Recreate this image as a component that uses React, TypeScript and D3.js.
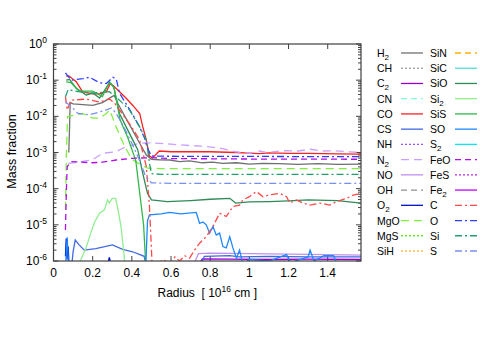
import React from 'react';
import * as d3 from 'd3';

type Pt = [number, number];

const xTicks = [0, 0.2, 0.4, 0.6, 0.8, 1, 1.2, 1.4];
const yExponents = [0, -1, -2, -3, -4, -5, -6];

// [radius (1e16 cm), mass fraction]
const H2: Pt[] = [[0.078, 1e-3], [0.082, 5e-3], [0.085, 0.024], [0.1, 0.022], [0.15, 0.021], [0.2, 0.02], [0.25, 0.024], [0.29, 0.033], [0.31, 0.038], [0.33, 0.022], [0.36, 0.011], [0.4, 4.5e-3], [0.44, 1.8e-3], [0.474, 8.5e-4], [0.5, 6.5e-4], [0.54, 6.3e-4], [0.593, 6.2e-4], [0.644, 5.6e-4], [0.695, 5.9e-4], [0.761, 5.2e-4], [0.812, 5.4e-4], [0.864, 5.0e-4], [0.935, 5.2e-4], [1.0, 4.8e-4], [1.068, 5.0e-4], [1.15, 4.9e-4], [1.25, 4.7e-4], [1.35, 4.9e-4], [1.45, 4.7e-4], [1.57, 4.8e-4]];
const CH: Pt[] = [];
const C2: Pt[] = [[0.72, 5e-7], [0.76, 1.15e-6], [0.9, 1.12e-6], [1.1, 1.1e-6], [1.3, 1.12e-6], [1.57, 1.1e-6]];
const CN: Pt[] = [];
const CO: Pt[] = [[0.065, 0.13], [0.078, 0.132], [0.116, 0.091], [0.148, 0.048], [0.2, 0.042], [0.235, 0.042], [0.27, 0.048], [0.29, 0.081], [0.307, 0.069], [0.337, 0.048], [0.37, 0.032], [0.405, 0.02], [0.44, 0.012], [0.456, 5.1e-3], [0.474, 2.2e-3], [0.49, 8e-4], [0.506, 7.1e-4], [0.54, 1.1e-3], [0.6, 1.05e-3], [0.8, 1.05e-3], [0.93, 1.0e-3], [1.0, 9.6e-4], [1.05, 9.3e-4], [1.1, 9.8e-4], [1.2, 9.5e-4], [1.3, 9.4e-4], [1.45, 9.2e-4], [1.57, 9.0e-4]];
const CS: Pt[] = [[0.09, 5e-7], [0.1, 1.8e-6], [0.111, 3.8e-6], [0.131, 2.8e-6], [0.157, 2.0e-6], [0.216, 2.2e-6], [0.301, 2.8e-6], [0.353, 2.1e-6], [0.404, 1.8e-6], [0.463, 1.35e-6], [0.48, 5e-7], [0.74, 5e-7], [0.77, 1.35e-6], [0.9, 1.4e-6], [0.95, 1.3e-6], [1.1, 1.35e-6], [1.3, 1.3e-6], [1.57, 1.3e-6]];
const NH: Pt[] = [];
const N2: Pt[] = [[0.075, 5e-4], [0.1, 5.2e-4], [0.2, 6.3e-4], [0.25, 9.5e-4], [0.32, 1.05e-3], [0.37, 1.45e-3], [0.44, 1.8e-3], [0.49, 1.85e-3], [0.6, 1.7e-3], [0.7, 1.55e-3], [0.76, 1.5e-3], [0.85, 1.32e-3], [0.93, 1.05e-3], [1.0, 9.5e-4], [1.05, 1.1e-3], [1.09, 1.0e-3], [1.17, 1.12e-3], [1.25, 1.1e-3], [1.31, 1.23e-3], [1.37, 1.1e-3], [1.43, 1.12e-3], [1.5, 1.05e-3], [1.57, 1.0e-3]];
const NO: Pt[] = [[0.7, 5e-7], [0.74, 1.6e-6], [0.8, 1.65e-6], [1.0, 1.6e-6], [1.2, 1.55e-6], [1.4, 1.5e-6], [1.57, 1.45e-6]];
const OH: Pt[] = [];
const O2: Pt[] = [[0.061, 1.35e-6], [0.065, 4.2e-6], [0.069, 1.1e-6], [0.075, 2.5e-6], [0.08, 6e-7], [0.27, 6e-7], [0.285, 1.25e-6], [0.3, 6e-7]];
const MgO: Pt[] = [[0.061, 2.6e-5], [0.066, 1e-3], [0.072, 9.8e-3], [0.116, 0.011], [0.148, 0.012], [0.2, 8.9e-3], [0.235, 8.9e-3], [0.27, 0.012], [0.287, 0.015], [0.32, 5.1e-3], [0.36, 1.6e-3], [0.4, 6.5e-4], [0.45, 4.4e-4], [0.48, 3.7e-4], [0.55, 3.6e-4], [1.0, 3.6e-4], [1.57, 3.6e-4]];
const MgS: Pt[] = [];
const SiH: Pt[] = [];
const SiN: Pt[] = [];
const SiC: Pt[] = [];
const SiO: Pt[] = [[0.065, 0.1], [0.082, 0.105], [0.116, 0.06], [0.167, 0.039], [0.201, 0.044], [0.235, 0.032], [0.286, 0.085], [0.307, 0.066], [0.337, 0.012], [0.371, 5.1e-3], [0.405, 2.2e-3], [0.43, 1.2e-3], [0.456, 2.6e-4], [0.48, 7.4e-5], [0.5, 4.9e-5], [0.58, 4.4e-5], [0.7, 4.7e-5], [0.8, 5.1e-5], [0.9, 5.4e-5], [0.93, 4.0e-5], [1.0, 4.3e-5], [1.1, 4.4e-5], [1.2, 4.6e-5], [1.3, 4.9e-5], [1.45, 4.7e-5], [1.57, 4.0e-5]];
const Si2: Pt[] = [[0.128, 5e-7], [0.14, 1.1e-6], [0.165, 2.2e-6], [0.19, 5.9e-6], [0.21, 1.2e-5], [0.235, 2.1e-5], [0.26, 2.6e-5], [0.276, 4.9e-5], [0.285, 4.0e-5], [0.3, 5.4e-5], [0.317, 5.4e-5], [0.33, 2.6e-5], [0.346, 8e-6], [0.36, 1.5e-6], [0.368, 5e-7]];
const SiS: Pt[] = [[0.065, 0.09], [0.09, 0.085], [0.13, 0.05], [0.2, 0.05], [0.25, 0.035], [0.286, 0.09], [0.31, 0.06], [0.34, 8e-3], [0.38, 2.5e-3], [0.42, 6e-4], [0.46, 1e-5], [0.48, 1e-7]];
const SO: Pt[] = [[0.061, 5e-7], [0.066, 2.2e-6], [0.07, 4.5e-6], [0.074, 1.5e-6], [0.078, 5e-7], [0.47, 5e-7], [0.48, 1.3e-5], [0.49, 1.9e-5], [0.55, 2.0e-5], [0.593, 2.2e-5], [0.65, 2.0e-5], [0.729, 2.2e-5], [0.746, 1.1e-5], [0.763, 1.2e-5], [0.78, 1.0e-5], [0.797, 5.9e-6], [0.814, 9e-6], [0.831, 5.2e-6], [0.848, 5.9e-6], [0.865, 2.5e-6], [0.882, 2.3e-6], [0.9, 4.7e-6], [0.916, 2.3e-6], [0.934, 1.2e-6], [0.95, 2.0e-6], [0.967, 8e-7], [1.0, 1.1e-6], [1.1, 1.0e-6], [1.19, 1.5e-6], [1.21, 9e-7], [1.3, 1.3e-6], [1.31, 2.0e-6], [1.33, 1.0e-6], [1.38, 1.4e-6], [1.43, 1.4e-6], [1.45, 8e-7], [1.57, 8e-7]];
const S2: Pt[] = [];
const FeO: Pt[] = [[0.061, 7.2e-6], [0.066, 1e-4], [0.07, 4.1e-4], [0.09, 5.6e-4], [0.2, 5.2e-4], [0.25, 5.4e-4], [0.32, 6.2e-4], [0.4, 6.9e-4], [0.5, 7.2e-4], [0.6, 6.8e-4], [1.0, 6.6e-4], [1.57, 6.5e-4]];
const FeS: Pt[] = [];
const Fe2: Pt[] = [];
const C: Pt[] = [[0.061, 0.035], [0.07, 0.015], [0.09, 0.028], [0.167, 0.03], [0.235, 0.025], [0.286, 0.03], [0.312, 0.023], [0.35, 0.012], [0.4, 5e-3], [0.44, 2.2e-3], [0.474, 4.1e-4], [0.49, 3.2e-5], [0.498, 3.8e-6], [0.505, 5e-7], [0.53, 8e-7], [0.56, 1.1e-6], [0.6, 8e-7], [0.62, 1.3e-6], [0.644, 1.0e-6], [0.67, 1.4e-6], [0.695, 1.2e-6], [0.72, 2.0e-6], [0.746, 3.1e-6], [0.78, 4.7e-6], [0.814, 8.9e-6], [0.848, 2.1e-5], [0.882, 1.7e-5], [0.916, 3.2e-5], [0.95, 3.5e-5], [0.967, 4.9e-5], [1.0, 6.0e-5], [1.036, 8.3e-5], [1.07, 6.0e-5], [1.1, 6.7e-5], [1.155, 7.4e-5], [1.19, 6.0e-5], [1.206, 4.0e-5], [1.24, 4.9e-5], [1.274, 4.0e-5], [1.308, 3.5e-5], [1.36, 4.0e-5], [1.41, 3.5e-5], [1.445, 4.4e-5], [1.496, 5.4e-5], [1.53, 6.6e-5], [1.57, 7.4e-5]];
const O: Pt[] = [[0.061, 0.16], [0.09, 0.1], [0.15, 0.11], [0.184, 0.12], [0.235, 0.085], [0.27, 0.081], [0.303, 0.12], [0.32, 0.11], [0.337, 0.044], [0.371, 0.022], [0.405, 0.011], [0.44, 5e-3], [0.465, 2.5e-3], [0.48, 1.3e-3], [0.5, 8e-4], [0.55, 7.9e-4], [0.8, 7.8e-4], [1.0, 7.8e-4], [1.3, 7.7e-4], [1.57, 7.7e-4]];
const Si: Pt[] = [[0.061, 0.035], [0.075, 0.055], [0.125, 0.048], [0.2, 0.044], [0.286, 0.048], [0.337, 0.028], [0.388, 0.015], [0.44, 5.1e-3], [0.474, 2.2e-3], [0.49, 5e-4], [0.5, 2.6e-4], [0.55, 2.5e-4], [1.57, 2.5e-4]];
const S: Pt[] = [[0.061, 0.025], [0.09, 0.019], [0.125, 0.012], [0.184, 0.011], [0.27, 0.015], [0.296, 0.017], [0.32, 0.012], [0.36, 5e-3], [0.4, 1.8e-3], [0.44, 6e-4], [0.47, 2.2e-4], [0.5, 1.45e-4], [0.6, 1.4e-4], [1.0, 1.4e-4], [1.57, 1.4e-4]];

const SOLID = '';
const DASH = '6,4';
const LONG = '8,5';
const DOT = '2,2';
const DASHDOT = '7,3,2,3';

const col1 = [
  { name: 'H2', data: H2, color: '#707070', dash: SOLID },
  { name: 'CH', data: CH, color: '#a8a8a8', dash: DOT },
  { name: 'C2', data: C2, color: '#9400d3', dash: SOLID },
  { name: 'CN', data: CN, color: '#7fffd4', dash: DASH },
  { name: 'CO', data: CO, color: '#ff2020', dash: SOLID },
  { name: 'CS', data: CS, color: '#4169e1', dash: SOLID },
  { name: 'NH', data: NH, color: '#a050f0', dash: DOT },
  { name: 'N2', data: N2, color: '#c8a0ff', dash: LONG },
  { name: 'NO', data: NO, color: '#c090ee', dash: SOLID },
  { name: 'OH', data: OH, color: '#909090', dash: DASH },
  { name: 'O2', data: O2, color: '#0010d0', dash: SOLID },
  { name: 'MgO', data: MgO, color: '#80f040', dash: LONG },
  { name: 'MgS', data: MgS, color: '#60f020', dash: DOT },
  { name: 'SiH', data: SiH, color: '#ffc040', dash: DOT },
];
const col2 = [
  { name: 'SiN', data: SiN, color: '#ffb000', dash: DASH },
  { name: 'SiC', data: SiC, color: '#50e0d8', dash: SOLID },
  { name: 'SiO', data: SiO, color: '#2e8b57', dash: SOLID },
  { name: 'Si2', data: Si2, color: '#90ee90', dash: SOLID },
  { name: 'SiS', data: SiS, color: '#30b848', dash: SOLID },
  { name: 'SO', data: SO, color: '#1e88ff', dash: SOLID },
  { name: 'S2', data: S2, color: '#00e8f0', dash: SOLID },
  { name: 'FeO', data: FeO, color: '#b010e8', dash: DASH },
  { name: 'FeS', data: FeS, color: '#c020f0', dash: DOT },
  { name: 'Fe2', data: Fe2, color: '#c000ff', dash: SOLID },
  { name: 'C', data: C, color: '#ff4848', dash: DASHDOT },
  { name: 'O', data: O, color: '#3040ff', dash: DASHDOT },
  { name: 'Si', data: Si, color: '#20a070', dash: DASHDOT },
  { name: 'S', data: S, color: '#7890f0', dash: DASHDOT },
];

const W = 491;
const H = 343;
const plot = { left: 53.5, right: 361, top: 44, bottom: 261 };
const font = '"Liberation Sans", Arial, sans-serif';

// "H2" -> H with subscript 2
const Label = ({ name, x, y }: { name: string; x: number; y: number }) => {
  const m = name.match(/^([A-Za-z]+)(\d*)$/);
  const base = m ? m[1] : name;
  const sub = m ? m[2] : '';
  return (
    <text x={x} y={y} fontSize={10.5} fill="#000">
      {base}
      {sub && <tspan dy={3} fontSize={8}>{sub}</tspan>}
    </text>
  );
};

export default function App() {
  const x = d3.scaleLinear().domain([0, 1.57]).range([plot.left, plot.right]);
  const y = d3.scaleLog().domain([1e-6, 1]).range([plot.bottom, plot.top]);
  const line = d3.line<Pt>().x(d => x(d[0])).y(d => y(d[1]));

  const minor: number[] = [];
  yExponents.slice(0, -1).forEach(e => {
    for (let k = 2; k <= 9; k++) minor.push(k * Math.pow(10, e - 1));
  });

  const rowY = (i: number) => 53 + i * 15.23;
  const border = '#404040';

  return (
    <svg width={W} height={H} style={{ position: 'absolute', left: 0, top: 0, background: '#fff' }} fontFamily={font}>
      <defs>
        <clipPath id="plotclip">
          <rect x={plot.left} y={plot.top} width={plot.right - plot.left} height={plot.bottom - plot.top} />
        </clipPath>
      </defs>

      {/* ticks */}
      <g stroke={border} strokeWidth={1}>
        {xTicks.map(t => (
          <g key={'xt' + t}>
            <line x1={x(t)} x2={x(t)} y1={plot.bottom} y2={plot.bottom - 5} />
            <line x1={x(t)} x2={x(t)} y1={plot.top} y2={plot.top + 5} />
          </g>
        ))}
        {yExponents.map(e => (
          <g key={'yt' + e}>
            <line x1={plot.left} x2={plot.left + 5} y1={y(Math.pow(10, e))} y2={y(Math.pow(10, e))} />
            <line x1={plot.right} x2={plot.right - 5} y1={y(Math.pow(10, e))} y2={y(Math.pow(10, e))} />
          </g>
        ))}
        {minor.map((v, i) => (
          <g key={'ym' + i}>
            <line x1={plot.left} x2={plot.left + 3} y1={y(v)} y2={y(v)} />
            <line x1={plot.right} x2={plot.right - 3} y1={y(v)} y2={y(v)} />
          </g>
        ))}
      </g>

      {/* curves */}
      <g clipPath="url(#plotclip)" fill="none" strokeWidth={1.3}>
        {[...col1, ...col2].filter(s => s.data.length).map(s => (
          <path key={s.name} d={line(s.data) || ''} stroke={s.color} strokeDasharray={s.dash || undefined} />
        ))}
      </g>

      <rect x={plot.left} y={plot.top} width={plot.right - plot.left} height={plot.bottom - plot.top}
        fill="none" stroke={border} strokeWidth={1.2} />

      {/* tick labels */}
      {xTicks.map(t => (
        <text key={'xl' + t} x={x(t)} y={277} fontSize={12} textAnchor="middle">{t}</text>
      ))}
      {yExponents.map(e => (
        <text key={'yl' + e} x={47} y={y(Math.pow(10, e)) + 4} fontSize={12} textAnchor="end">
          10<tspan dy={-5} fontSize={8.5}>{e === 0 ? '0' : '-' + -e}</tspan>
        </text>
      ))}

      <text transform={`translate(16,${(plot.top + plot.bottom) / 2 - 1}) rotate(-90)`} fontSize={12.5} textAnchor="middle">Mass fraction</text>
      <text x={(plot.left + plot.right) / 2} y={297} fontSize={12} textAnchor="middle">
        {'Radius\u00a0\u00a0[ 10'}<tspan dy={-5} fontSize={8.5}>16</tspan><tspan dy={5}>{' cm ]'}</tspan>
      </text>

      {/* legend */}
      {col1.map((s, i) => (
        <g key={'l1' + s.name}>
          <Label name={s.name} x={377} y={rowY(i) + 4} />
          <line x1={401} x2={423} y1={rowY(i)} y2={rowY(i)} stroke={s.color} strokeWidth={1.3} strokeDasharray={s.dash || undefined} />
        </g>
      ))}
      {col2.map((s, i) => (
        <g key={'l2' + s.name}>
          <Label name={s.name} x={430} y={rowY(i) + 4} />
          <line x1={455} x2={477} y1={rowY(i)} y2={rowY(i)} stroke={s.color} strokeWidth={1.3} strokeDasharray={s.dash || undefined} />
        </g>
      ))}
    </svg>
  );
}
